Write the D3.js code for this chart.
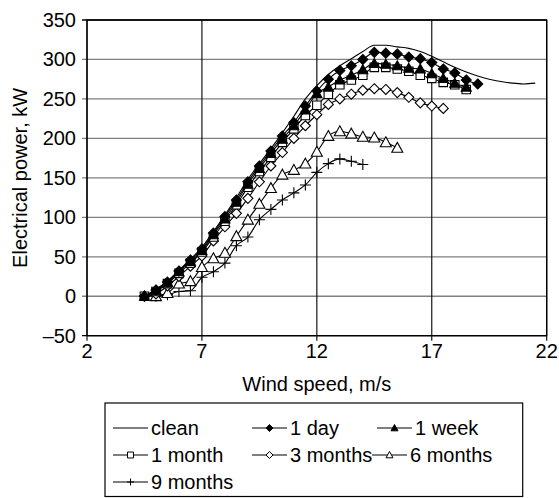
<!DOCTYPE html>
<html><head><meta charset="utf-8">
<script src="https://cdn.jsdelivr.net/npm/d3@7"></script>
<style>
html,body{margin:0;padding:0;background:#fff;}
svg{display:block;font-family:"Liberation Sans",Arial,Helvetica,sans-serif;}
</style></head>
<body>
<svg id="chart" width="559" height="498"></svg>
<script>
// ---- data ----
const windSpeed = [4.5,5,5.5,6,6.5,7,7.5,8,8.5,9,9.5,10,10.5,11,11.5,12,12.5,13,13.5,14,14.5,15,15.5,16,16.5,17,17.5,18,18.5,19,19.5,20,20.5,21,21.5];
const clean    = [0,9,19,33,47,62,82,103,125,148,168,187,207,228,250,267,281,292,301,310,318,318,316,314,310,304,297,290,284,279,275,272,270,269,270];
const oneDay   = [0,8,18,32,46,60,80,101,122,145,165,184,203,220,241,260,275,286,292,300,309,308,307,303,301,296,288,283,274,269];
const oneWeek  = [0,7,17,31,44,58,78,98,119,142,162,181,199,216,236,257,265,274,280,287,295,294,292,289,288,282,276,270,265];
const oneMonth = [0,6,16,29,42,56,75,95,116,138,158,176,195,212,229,242,256,268,274,280,290,290,288,285,280,276,271,268,262];
const threeMonths = [0,3,13,25,38,51,70,88,105,124,145,165,182,200,216,230,243,250,256,261,263,262,258,252,245,241,238];
const sixMonths  = [null,0,4,16,19,37,48,55,76,97,117,137,154,160,168,183,203,209,206,202,201,195,188];
const nineMonths = [null,0,2,6,7,24,31,42,64,75,97,110,122,131,141,157,168,174,171,167];
const seriesNames = ["clean","1 day","1 week","1 month","3 months","6 months","9 months"];
const xTicks = [2,7,12,17,22];
const yTicks = [-50,0,50,100,150,200,250,300,350];

// ---- layout ----
const svg = d3.select("#chart");
const L = 87, R = 546.7, T = 20, B = 335.7;
const x = d3.scaleLinear().domain([2,22]).range([L,R]);
const y = d3.scaleLinear().domain([-50,350]).range([B,T]);
const FS = 20;

// horizontal gridlines (gray)
svg.append("g").selectAll("line").data(yTicks).join("line")
  .attr("x1", L-5).attr("x2", R).attr("y1", d=>y(d)).attr("y2", d=>y(d))
  .attr("stroke", d => (d===-50||d===350) ? "#000" : "#808080").attr("stroke-width", 1.3);
// vertical gridlines (black)
svg.append("g").selectAll("line").data(xTicks).join("line")
  .attr("x1", d=>x(d)).attr("x2", d=>x(d)).attr("y1", T).attr("y2", B+5)
  .attr("stroke", "#000").attr("stroke-width", 1.1);
// frame
svg.append("rect").attr("x", L).attr("y", T).attr("width", R-L).attr("height", B-T)
  .attr("fill","none").attr("stroke","#000").attr("stroke-width",1.3);

// tick labels
svg.append("g").selectAll("text").data(yTicks).join("text")
  .attr("x", L-11).attr("y", d=>y(d)+7).attr("text-anchor","end")
  .attr("font-size",FS).text(d => d<0 ? "\u2013"+Math.abs(d) : d);
svg.append("g").selectAll("text").data(xTicks).join("text")
  .attr("x", d=>x(d)).attr("y", B+22).attr("text-anchor","middle")
  .attr("font-size",FS).text(d=>d);

// axis titles
svg.append("text").attr("x", (L+R)/2).attr("y", 391).attr("text-anchor","middle")
  .attr("font-size",FS).text("Wind speed, m/s");
svg.append("text").attr("transform", `translate(27,${(T+B)/2}) rotate(-90)`)
  .attr("text-anchor","middle").attr("font-size",FS).text("Electrical power, kW");

// marker shapes
function markerPath(type, s){
  const h = s/2;
  switch(type){
    case "diamond": return `M0,${-h}L${h},0L0,${h}L${-h},0Z`;
    case "triangle": return `M0,${-h}L${h},${h*0.8}L${-h},${h*0.8}Z`;
    case "square": return `M${-h*0.85},${-h*0.85}H${h*0.85}V${h*0.85}H${-h*0.85}Z`;
    case "plus": return `M${-h},0H${h}M0,${-h}V${h}`;
    default: return "";
  }
}
const seriesDefs = [
  {name: seriesNames[0], values: clean, marker: null, fill: "none"},
  {name: seriesNames[1], values: oneDay, marker: "diamond", fill: "#000", size: 10},
  {name: seriesNames[2], values: oneWeek, marker: "triangle", fill: "#000", size: 10},
  {name: seriesNames[3], values: oneMonth, marker: "square", fill: "#fff", size: 10},
  {name: seriesNames[4], values: threeMonths, marker: "diamond", fill: "#fff", size: 10},
  {name: seriesNames[5], values: sixMonths, marker: "triangle", fill: "#fff", size: 11},
  {name: seriesNames[6], values: nineMonths, marker: "plus", fill: "none", size: 11}
];

const line = d3.line().defined(d=>d.v!=null).x(d=>x(d.s)).y(d=>y(d.v)).curve(d3.curveMonotoneX);
const plot = svg.append("g");
seriesDefs.slice().reverse().forEach(sd => {
  const pts = sd.values.map((v,i)=>({s: windSpeed[i], v})).filter(d=>d.v!=null);
  plot.append("path").datum(pts).attr("d", line).attr("fill","none")
    .attr("stroke","#000").attr("stroke-width",1.1);
  if (sd.marker){
    plot.append("g").selectAll("path").data(pts).join("path")
      .attr("transform", d=>`translate(${x(d.s)},${y(d.v)})`)
      .attr("d", markerPath(sd.marker, sd.size))
      .attr("fill", sd.fill).attr("stroke","#000").attr("stroke-width",1.1);
  }
});

// legend
const lg = svg.append("g");
lg.append("rect").attr("x",105).attr("y",403).attr("width",417.7).attr("height",93.5)
  .attr("fill","#fff").attr("stroke","#000").attr("stroke-width",1.2);
const legendPos = [
  {lx:113, ty:428}, {lx:252, ty:428}, {lx:377, ty:428},
  {lx:113, ty:455}, {lx:252, ty:455}, {lx:372, ty:455},
  {lx:113, ty:482}
];
seriesDefs.forEach((sd,i) => {
  const p = legendPos[i];
  lg.append("line").attr("x1",p.lx).attr("x2",p.lx+35).attr("y1",p.ty).attr("y2",p.ty)
    .attr("stroke","#000").attr("stroke-width",1.1);
  if (sd.marker){
    lg.append("path").attr("transform",`translate(${p.lx+17.5},${p.ty})`)
      .attr("d", markerPath(sd.marker, 7)).attr("fill", sd.fill)
      .attr("stroke","#000").attr("stroke-width",1);
  }
  lg.append("text").attr("x", p.lx+38).attr("y", p.ty+7).attr("font-size",FS).text(sd.name);
});
</script>
</body></html>
